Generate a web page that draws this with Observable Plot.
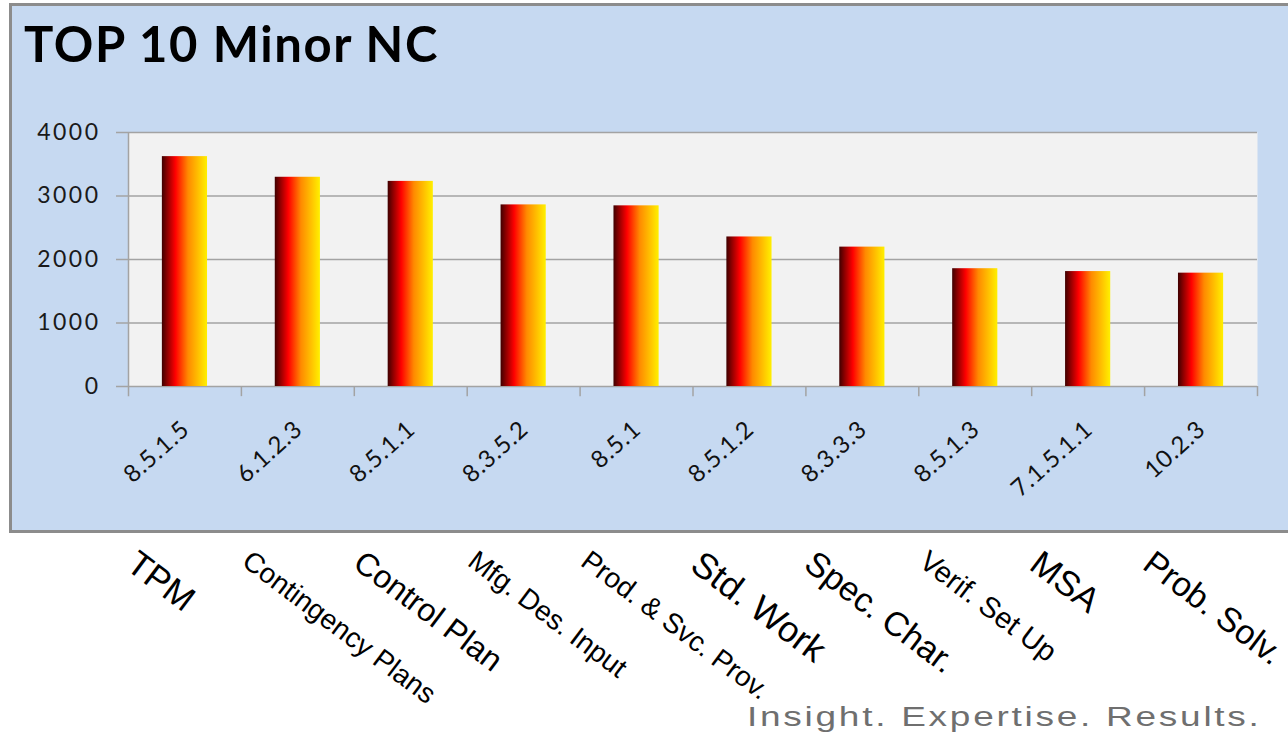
<!DOCTYPE html>
<html>
<head>
<meta charset="utf-8">
<script src="https://cdn.jsdelivr.net/npm/d3@7"></script>
<script src="https://cdn.jsdelivr.net/npm/@observablehq/plot@0.6"></script>
<style>
  html, body { margin: 0; padding: 0; background: #ffffff; }
  body { width: 1288px; height: 739px; position: relative; overflow: hidden; }
  #box { position: absolute; left: 9px; top: 3px; width: 1300px; height: 524px;
         background: #c6d9f1; border: 3px solid #8c8c8c; }
  #title { position: absolute; left: 24px; top: 14px; font-family: Lato, sans-serif;
           font-weight: bold; font-size: 49px; color: #000; letter-spacing: 1.6px; white-space: nowrap; }
  #tagline { position: absolute; left: 747px; top: 702px; font-family: "Liberation Sans", Arial, sans-serif;
             font-size: 27px; color: #6f6f6f; white-space: nowrap; letter-spacing: 2px;
             transform: scaleX(1.37); transform-origin: left top; }
  #chart { position: absolute; left: 0; top: 0; }
  #chart svg [aria-label="y-axis tick label"] text { letter-spacing: 2.5px; }
  #chart svg .code-label text { letter-spacing: 0.8px; }
</style>
</head>
<body>
<div id="box"></div>
<div id="title">TOP 10 Minor NC</div>
<div id="chart"></div>
<div id="tagline">Insight. Expertise. Results.</div>
<script>
// ---- data ----
const codes = ["8.5.1.5", "6.1.2.3", "8.5.1.1", "8.3.5.2", "8.5.1", "8.5.1.2", "8.3.3.3", "8.5.1.3", "7.1.5.1.1", "10.2.3"];
const names = ["TPM", "Contingency Plans", "Control Plan", "Mfg. Des. Input", "Prod. & Svc. Prov.", "Std. Work", "Spec. Char.", "Verif. Set Up", "MSA", "Prob. Solv."];
const counts = [3620, 3295, 3230, 2860, 2845, 2355, 2195, 1855, 1810, 1785];
const yTicks = [0, 1000, 2000, 3000, 4000];

// ---- label styling (font sizes of the category names) ----
const nameFontSize = {
  "TPM": 35, "Contingency Plans": 28, "Control Plan": 32, "Mfg. Des. Input": 28,
  "Prod. & Svc. Prov.": 28, "Std. Work": 36, "Spec. Char.": 34, "Verif. Set Up": 29,
  "MSA": 35, "Prob. Solv.": 34
};

const rows = codes.map((c, i) => ({code: c, name: names[i], count: counts[i]}));

const W = 1288, H = 739;
const mL = 128, mR = 31, mT = 132, mB = 353;
const step = (W - mL - mR) / codes.length;
const grid = "#a3a3a3";

const chart = Plot.plot({
  width: W,
  height: H,
  marginLeft: mL,
  marginRight: mR,
  marginTop: mT,
  marginBottom: mB,
  style: {background: "transparent", overflow: "visible"},
  x: {domain: codes, paddingInner: 0.6, paddingOuter: 0.3, round: false, axis: null},
  y: {domain: [0, 4000], axis: null},
  marks: [
    Plot.frame({fill: "#f2f2f2", stroke: null}),
    Plot.ruleY(yTicks, {stroke: grid, strokeWidth: 1.5}),
    Plot.axisY({ticks: yTicks, tickSize: 12, tickPadding: 16, tickFormat: d => String(d),
                stroke: grid, strokeWidth: 1.5,
                fontSize: 23, fontFamily: "Lato, sans-serif", fill: "#1a1a1a", label: null}),
    // left axis line + band boundary ticks
    Plot.ruleX([codes[0]], {x: d => d, y1: 4000, y2: -160, dx: -step / 2, stroke: grid, strokeWidth: 1.5}),
    Plot.ruleX(codes.slice(1), {x: d => d, y1: 0, y2: -160, dx: -step / 2, stroke: grid, strokeWidth: 1.5}),
    Plot.ruleX([codes[codes.length - 1]], {x: d => d, y1: 0, y2: -160, dx: step / 2, stroke: grid, strokeWidth: 1.5}),
    Plot.barY(rows, {x: "code", y: "count", fill: "url(#barGrad)"}),
    Plot.text(rows, {x: "code", text: "code", frameAnchor: "bottom", rotate: -42, textAnchor: "end",
                     lineAnchor: "bottom", dx: 6, dy: 45, fontSize: 24, fontFamily: "Lato, sans-serif",
                     fill: "#111", className: "code-label"}),
    Plot.text(rows, {x: "code", text: "name", frameAnchor: "bottom", rotate: 37, textAnchor: "start",
                     lineAnchor: "top", dx: -step / 2 + 11, dy: 162,
                     fontSize: d => nameFontSize[d.name],
                     fontFamily: "'Liberation Sans', Arial, sans-serif", fill: "#000"})
  ]
});

// gradient for the bars
const defs = d3.select(chart).insert("defs", ":first-child");
const lg = defs.append("linearGradient").attr("id", "barGrad")
  .attr("x1", "0").attr("x2", "1").attr("y1", "0").attr("y2", "0");
[[0, "#3f0000"], [0.12, "#8e0000"], [0.3, "#ff0000"], [0.58, "#ff8a00"], [0.82, "#ffc400"], [1, "#fff000"]]
  .forEach(([o, c]) => lg.append("stop").attr("offset", o).attr("stop-color", c));

document.getElementById("chart").appendChild(chart);
</script>
</body>
</html>
